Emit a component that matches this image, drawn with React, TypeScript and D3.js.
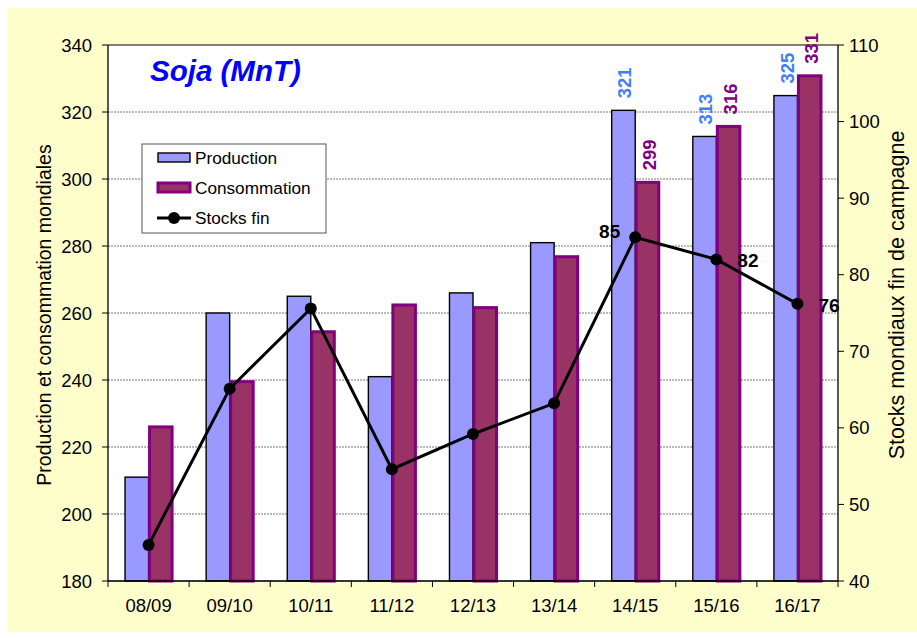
import React from "react";
import * as d3 from "d3";

// Campaign years
const categories = ["08/09", "09/10", "10/11", "11/12", "12/13", "13/14", "14/15", "15/16", "16/17"];
// World production / consumption (MnT)
const production = [211, 260, 265, 241, 266, 281, 320.5, 312.7, 324.9];
const consommation = [226, 239.5, 254.4, 262.4, 261.6, 276.8, 299, 315.7, 330.8];
// End-of-season stocks (right axis)
const stocks = [44.7, 65.1, 75.6, 54.6, 59.2, 63.2, 84.9, 82, 76.2];

const leftTicks = [180, 200, 220, 240, 260, 280, 300, 320, 340];
const rightTicks = [40, 50, 60, 70, 80, 90, 100, 110];

// labels shown above bars for the last campaigns only
const labelledFrom = 6;
const prodLabels = ["321", "313", "325"];
const consLabels = ["299", "316", "331"];
const stockLabels = ["85", "82", "76"];

const FONT = "'Liberation Sans', Arial, sans-serif";

const App: React.FC = () => {
  const margin = { top: 45, right: 79, bottom: 57, left: 108 };
  const W = 917;
  const H = 638;

  const x = d3.scaleBand<string>()
    .domain(categories)
    .range([margin.left, W - margin.right])
    .padding(0);

  const yLeft = d3.scaleLinear().domain([180, 340]).range([H - margin.bottom, margin.top]);
  const yRight = d3.scaleLinear().domain([40, 110]).range([H - margin.bottom, margin.top]);

  const bw = x.bandwidth() * 0.29;
  const cx = (c: string) => (x(c) as number) + x.bandwidth() / 2;

  const line = d3.line<number>()
    .x((_, i) => cx(categories[i]))
    .y(d => yRight(d));

  const plotL = margin.left;
  const plotR = W - margin.right;
  const plotT = margin.top;
  const plotB = H - margin.bottom;

  return (
    <div style={{ position: "absolute", left: 0, top: 0 }}>
      <svg width={W} height={H} style={{ display: "block", fontFamily: FONT }}>
        <rect x={0} y={0} width={W} height={H} fill="#ffffff" />
        <rect x={7} y={8} width={W - 7} height={H - 14} fill="#FFFFCC" />
        <rect x={plotL} y={plotT} width={plotR - plotL} height={plotB - plotT} fill="#ffffff" />

        {/* gridlines */}
        {leftTicks.map(t => (
          <line key={"g" + t} x1={plotL} x2={plotR} y1={yLeft(t)} y2={yLeft(t)}
            stroke={t === 340 ? "#000" : "#555"} strokeWidth={t === 340 ? 1.2 : 0.8}
            strokeDasharray={t === 340 ? undefined : "2,1"} />
        ))}

        {/* bars */}
        {categories.map((c, i) => (
          <g key={"b" + c}>
            <rect x={cx(c) - bw} y={yLeft(production[i])} width={bw}
              height={plotB - yLeft(production[i])} fill="#9999FF" stroke="#000" strokeWidth={1.4} />
            <rect x={cx(c) + 1} y={yLeft(consommation[i])} width={bw - 1}
              height={plotB - yLeft(consommation[i])} fill="#993366" stroke="#800080" strokeWidth={3} />
          </g>
        ))}

        {/* bar value labels */}
        {prodLabels.map((t, k) => {
          const i = labelledFrom + k;
          const px = cx(categories[i]) - bw / 2 + 3;
          const py = yLeft(production[i]) - 12;
          return (
            <text key={"pl" + k} transform={`translate(${px},${py}) rotate(-90)`}
              fontSize={18.5} fontWeight="bold" fill="#3F7FFF" dominantBaseline="middle">{t}</text>
          );
        })}
        {consLabels.map((t, k) => {
          const i = labelledFrom + k;
          const px = cx(categories[i]) + bw / 2 + 4;
          const py = yLeft(consommation[i]) - 12;
          return (
            <text key={"cl" + k} transform={`translate(${px},${py}) rotate(-90)`}
              fontSize={18.5} fontWeight="bold" fill="#800080" dominantBaseline="middle">{t}</text>
          );
        })}

        {/* stocks line */}
        <path d={line(stocks) as string} fill="none" stroke="#000" strokeWidth={3} />
        {stocks.map((s, i) => (
          <circle key={"s" + i} cx={cx(categories[i])} cy={yRight(s)} r={6} fill="#000" />
        ))}
        <text x={cx(categories[6]) - 15} y={yRight(stocks[6]) + 1} textAnchor="end"
          fontSize={19} fontWeight="bold">{stockLabels[0]}</text>
        <text x={cx(categories[7]) + 21} y={yRight(stocks[7]) + 8} textAnchor="start"
          fontSize={19} fontWeight="bold">{stockLabels[1]}</text>
        <text x={cx(categories[8]) + 21} y={yRight(stocks[8]) + 8} textAnchor="start"
          fontSize={19} fontWeight="bold">{stockLabels[2]}</text>

        {/* axes */}
        <line x1={plotL} x2={plotL} y1={plotT} y2={plotB} stroke="#000" strokeWidth={1.3} />
        <line x1={plotR} x2={plotR} y1={plotT} y2={plotB} stroke="#000" strokeWidth={1.3} />
        <line x1={plotL} x2={plotR} y1={plotB} y2={plotB} stroke="#000" strokeWidth={1.3} />

        {leftTicks.map(t => (
          <g key={"lt" + t}>
            <line x1={plotL - 6} x2={plotL} y1={yLeft(t)} y2={yLeft(t)} stroke="#000" strokeWidth={1} />
            <text x={plotL - 16} y={yLeft(t)} textAnchor="end" dominantBaseline="central" fontSize={18.5}>{t}</text>
          </g>
        ))}
        {rightTicks.map(t => (
          <g key={"rt" + t}>
            <line x1={plotR} x2={plotR + 6} y1={yRight(t)} y2={yRight(t)} stroke="#000" strokeWidth={1} />
            <text x={plotR + 11} y={yRight(t)} textAnchor="start" dominantBaseline="central" fontSize={18.5}>{t}</text>
          </g>
        ))}
        {categories.map((c, i) => (
          <g key={"xt" + c}>
            <line x1={x(c) as number} x2={x(c) as number} y1={plotB} y2={plotB + 6} stroke="#000" strokeWidth={1} />
            {i === categories.length - 1 && (
              <line x1={plotR} x2={plotR} y1={plotB} y2={plotB + 6} stroke="#000" strokeWidth={1} />
            )}
            <text x={cx(c)} y={plotB + 31} textAnchor="middle" fontSize={18.5}>{c}</text>
          </g>
        ))}

        {/* axis titles */}
        <text transform={`translate(44,${(plotT + plotB) / 2 + 2}) rotate(-90)`} textAnchor="middle"
          dominantBaseline="central" fontSize={19.5}>Production et consommation mondiales</text>
        <text transform={`translate(897,${(plotT + plotB) / 2 - 18}) rotate(-90)`} textAnchor="middle"
          dominantBaseline="central" fontSize={21.5}>Stocks mondiaux fin de campagne</text>

        {/* title */}
        <text x={150} y={81} fontSize={29.5} fontWeight="bold" fontStyle="italic" fill="#0000FF">Soja (MnT)</text>

        {/* legend */}
        <rect x={142} y={144} width={184} height={89} fill="#fff" stroke="#555" strokeWidth={1} />
        <rect x={158} y={153} width={32} height={9} fill="#9999FF" stroke="#000" strokeWidth={1.4} />
        <text x={195} y={158} dominantBaseline="central" fontSize={17.2}>Production</text>
        <rect x={158} y={183} width={32} height={9} fill="#993366" stroke="#800080" strokeWidth={3} />
        <text x={195} y={188} dominantBaseline="central" fontSize={17.2}>Consommation</text>
        <line x1={157} x2={191} y1={218} y2={218} stroke="#000" strokeWidth={3} />
        <circle cx={174} cy={218} r={6} fill="#000" />
        <text x={195} y={218} dominantBaseline="central" fontSize={17.2}>Stocks fin</text>
      </svg>
    </div>
  );
};

export default App;
